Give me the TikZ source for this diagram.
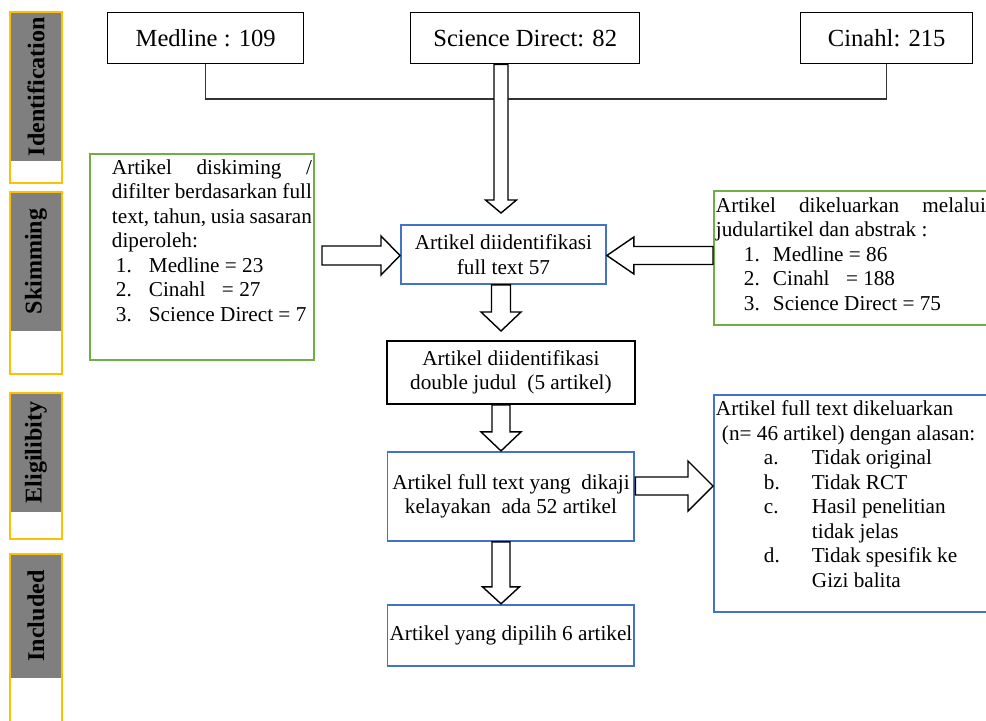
\documentclass[tikz,border=0pt]{standalone}
\usepackage{fontspec}
\setmainfont{Liberation Serif}
\usetikzlibrary{positioning, calc}
\definecolor{prismaBlue}{HTML}{4472C4}
\definecolor{prismaGreen}{HTML}{70AD47}
\definecolor{stageGold}{HTML}{FFC000}
\definecolor{stageGray}{HTML}{7F7F7F}
\newcommand{\prismabody}{\fontsize{12.07}{13.94}\selectfont}
\newcommand{\prismatop}{\fontsize{14}{16}\selectfont}
\newcommand{\prismastage}{\fontsize{13.7}{16}\selectfont\bfseries}
% hollow block arrows: axis/row, from, to, half shaft, half head, head length
\newcommand{\blockv}[6]{%
  \draw[hollow] let \p1=(#1 |- #2), \p2=(#1 |- #3) in
    ({\x1-#4},\y1) -- ({\x1-#4},{\y2+#6}) -- ({\x1-#5},{\y2+#6}) -- (\x2,\y2)
    -- ({\x1+#5},{\y2+#6}) -- ({\x1+#4},{\y2+#6}) -- ({\x1+#4},\y1) -- cycle;}
\newcommand{\blockh}[6]{%
  \draw[hollow] let \p1=(#1 -| #2), \p2=(#1 -| #3) in
    (\x1,{\y1+#4}) -- ({\x2-(#6)},{\y1+#4}) -- ({\x2-(#6)},{\y1+#5}) -- (\x2,\y1)
    -- ({\x2-(#6)},{\y1-#5}) -- ({\x2-(#6)},{\y1-#4}) -- (\x1,{\y1-#4}) -- cycle;}

\begin{document}
\begin{tikzpicture}[x=0.02cm, y=-0.02cm,
    src/.style={draw, line width=0.8pt, inner sep=0pt, font=\prismatop,
                anchor=north west, minimum height=1.02cm},
    stepblue/.style={draw=prismaBlue, line width=1.1pt, inner sep=1pt,
                     align=center, font=\prismabody},
    stepblack/.style={stepblue, draw=black},
    notegreen/.style={draw=prismaGreen, line width=1.1pt, inner sep=0pt,
                      font=\prismabody, anchor=north west},
    noteblue/.style={notegreen, draw=prismaBlue},
    stage/.style={fill=stageGray, rotate=90, inner sep=0pt,
                  minimum height=1.02cm, font=\prismastage},
    stageframe/.style={draw=stageGold, line width=0.7pt},
    hollow/.style={draw, fill=white, line width=0.8pt, line join=miter},
    joinline/.style={draw=black!80, line width=0.7pt},
  ]
  \useasboundingbox (0,0) rectangle (986,720);
  \clip (0,0) rectangle (986,720);

  % Stages on the left
  \node[stage, minimum width=2.98cm] (ident) at (36,86.5) {Identification};
  \node[stage, minimum width=2.78cm] (skimst) at (36,261.5) {Skimming};
  \node[stage, minimum width=2.38cm] (elig) at (36,452.5) {Eligilibity};
  \node[stage, minimum width=2.48cm] (incl) at (36,616) {Included};
  \draw[stageframe] (10,12) rectangle (62,183);
  \draw[stageframe] (10,192) rectangle (62,374);
  \draw[stageframe] (10,393) rectangle (62,539);
  \draw[stageframe] (10,554) rectangle (62,740);

  % Sources
  \node[src, minimum width=3.92cm] (med) at (107,12) {Medline : 109};
  \node[src, minimum width=4.58cm] (sd) at (410,12) {Science Direct: 82};
  \node[src, minimum width=3.44cm] (cin) at (800,12) {Cinahl: 215};
  \coordinate (junc) at (501,99);
  \draw[joinline] (med.south) |- (junc) -| (cin.south);

  % Main column
  \node[stepblue, anchor=north west, minimum width=4.1cm, minimum height=1.18cm] (b57)
    at (400,224) {Artikel diidentifikasi\\full text 57};
  \node[stepblack, anchor=north west, minimum width=4.96cm, minimum height=1.26cm] (dbl)
    at (386,340) {Artikel diidentifikasi\\double judul\ \ (5 artikel)};
  \node[stepblue, below=0.92cm of dbl, minimum width=4.94cm, minimum height=1.78cm] (b52)
    {Artikel full text yang\ \ dikaji\\kelayakan\ \ ada 52 artikel};
  \node[stepblue, below=1.24cm of b52, minimum width=4.94cm, minimum height=1.22cm] (final)
    {Artikel yang dipilih 6 artikel};

  % Side notes
  \node[notegreen, text height=0.41cm, text depth=3.71cm] (skim) at (89,153)
    {\hspace*{0.44cm}\parbox[t]{4cm}{%
      \makebox[\linewidth][s]{Artikel diskiming /}\\
      \makebox[\linewidth][s]{difilter berdasarkan full}\\
      \makebox[\linewidth][s]{text, tahun, usia sasaran}\\
      diperoleh:\\
      \hspace*{0.08cm}\makebox[0.66cm][l]{1.}Medline = 23\\
      \hspace*{0.08cm}\makebox[0.66cm][l]{2.}Cinahl\hspace{0.33cm}= 27\\
      \hspace*{0.08cm}\makebox[0.66cm][l]{3.}Science Direct = 7}\hspace*{0.04cm}};
  \node[notegreen, text height=0.43cm, text depth=2.25cm] (rej1) at (713,190)
    {\hspace*{0.04cm}\parbox[t]{5.4cm}{%
      \makebox[\linewidth][s]{Artikel dikeluarkan melalui}\\
      judulartikel dan abstrak :\\
      \hspace*{0.56cm}\makebox[0.58cm][l]{1.}Medline = 86\\
      \hspace*{0.56cm}\makebox[0.58cm][l]{2.}Cinahl\hspace{0.33cm}= 188\\
      \hspace*{0.56cm}\makebox[0.58cm][l]{3.}Science Direct = 75}\hspace*{0.2cm}};
  \node[noteblue, text height=0.42cm, text depth=3.92cm] (rej2) at (713,394)
    {\hspace*{0.04cm}\parbox[t]{5.4cm}{%
      Artikel full text dikeluarkan\\
      \hspace*{0.12cm}(n= 46 artikel) dengan alasan:\\
      \hspace*{0.96cm}\makebox[0.96cm][l]{a.}Tidak original\\
      \hspace*{0.96cm}\makebox[0.96cm][l]{b.}Tidak RCT\\
      \hspace*{0.96cm}\makebox[0.96cm][l]{c.}Hasil penelitian\\
      \hspace*{1.92cm}tidak jelas\\
      \hspace*{0.96cm}\makebox[0.96cm][l]{d.}Tidak spesifik ke\\
      \hspace*{1.92cm}Gizi balita}\hspace*{0.2cm}};

  % Block arrows
  \coordinate (axis) at (501,0);
  \coordinate (sdtip) at (501,213);
  \coordinate (dbltip) at (501,331);
  \coordinate (skimout) at (322,255.5);
  \coordinate (row1) at (0,255.5);
  \coordinate (row2) at (0,486);
  \blockv{axis}{sd.south}{sdtip}{0.14cm}{0.31cm}{0.26cm}
  \blockv{axis}{b57.south}{dbltip}{0.19cm}{0.4cm}{0.38cm}
  \blockv{axis}{dbl.south}{b52.north}{0.18cm}{0.4cm}{0.38cm}
  \blockv{axis}{b52.south}{final.north}{0.18cm}{0.37cm}{0.34cm}
  \blockh{row1}{skimout}{b57.west}{0.19cm}{0.39cm}{0.38cm}
  \blockh{row1}{rej1.west}{b57.east}{0.18cm}{0.37cm}{-0.54cm}
  \blockh{row2}{b52.east}{rej2.west}{0.18cm}{0.5cm}{0.5cm}
\end{tikzpicture}
\end{document}
